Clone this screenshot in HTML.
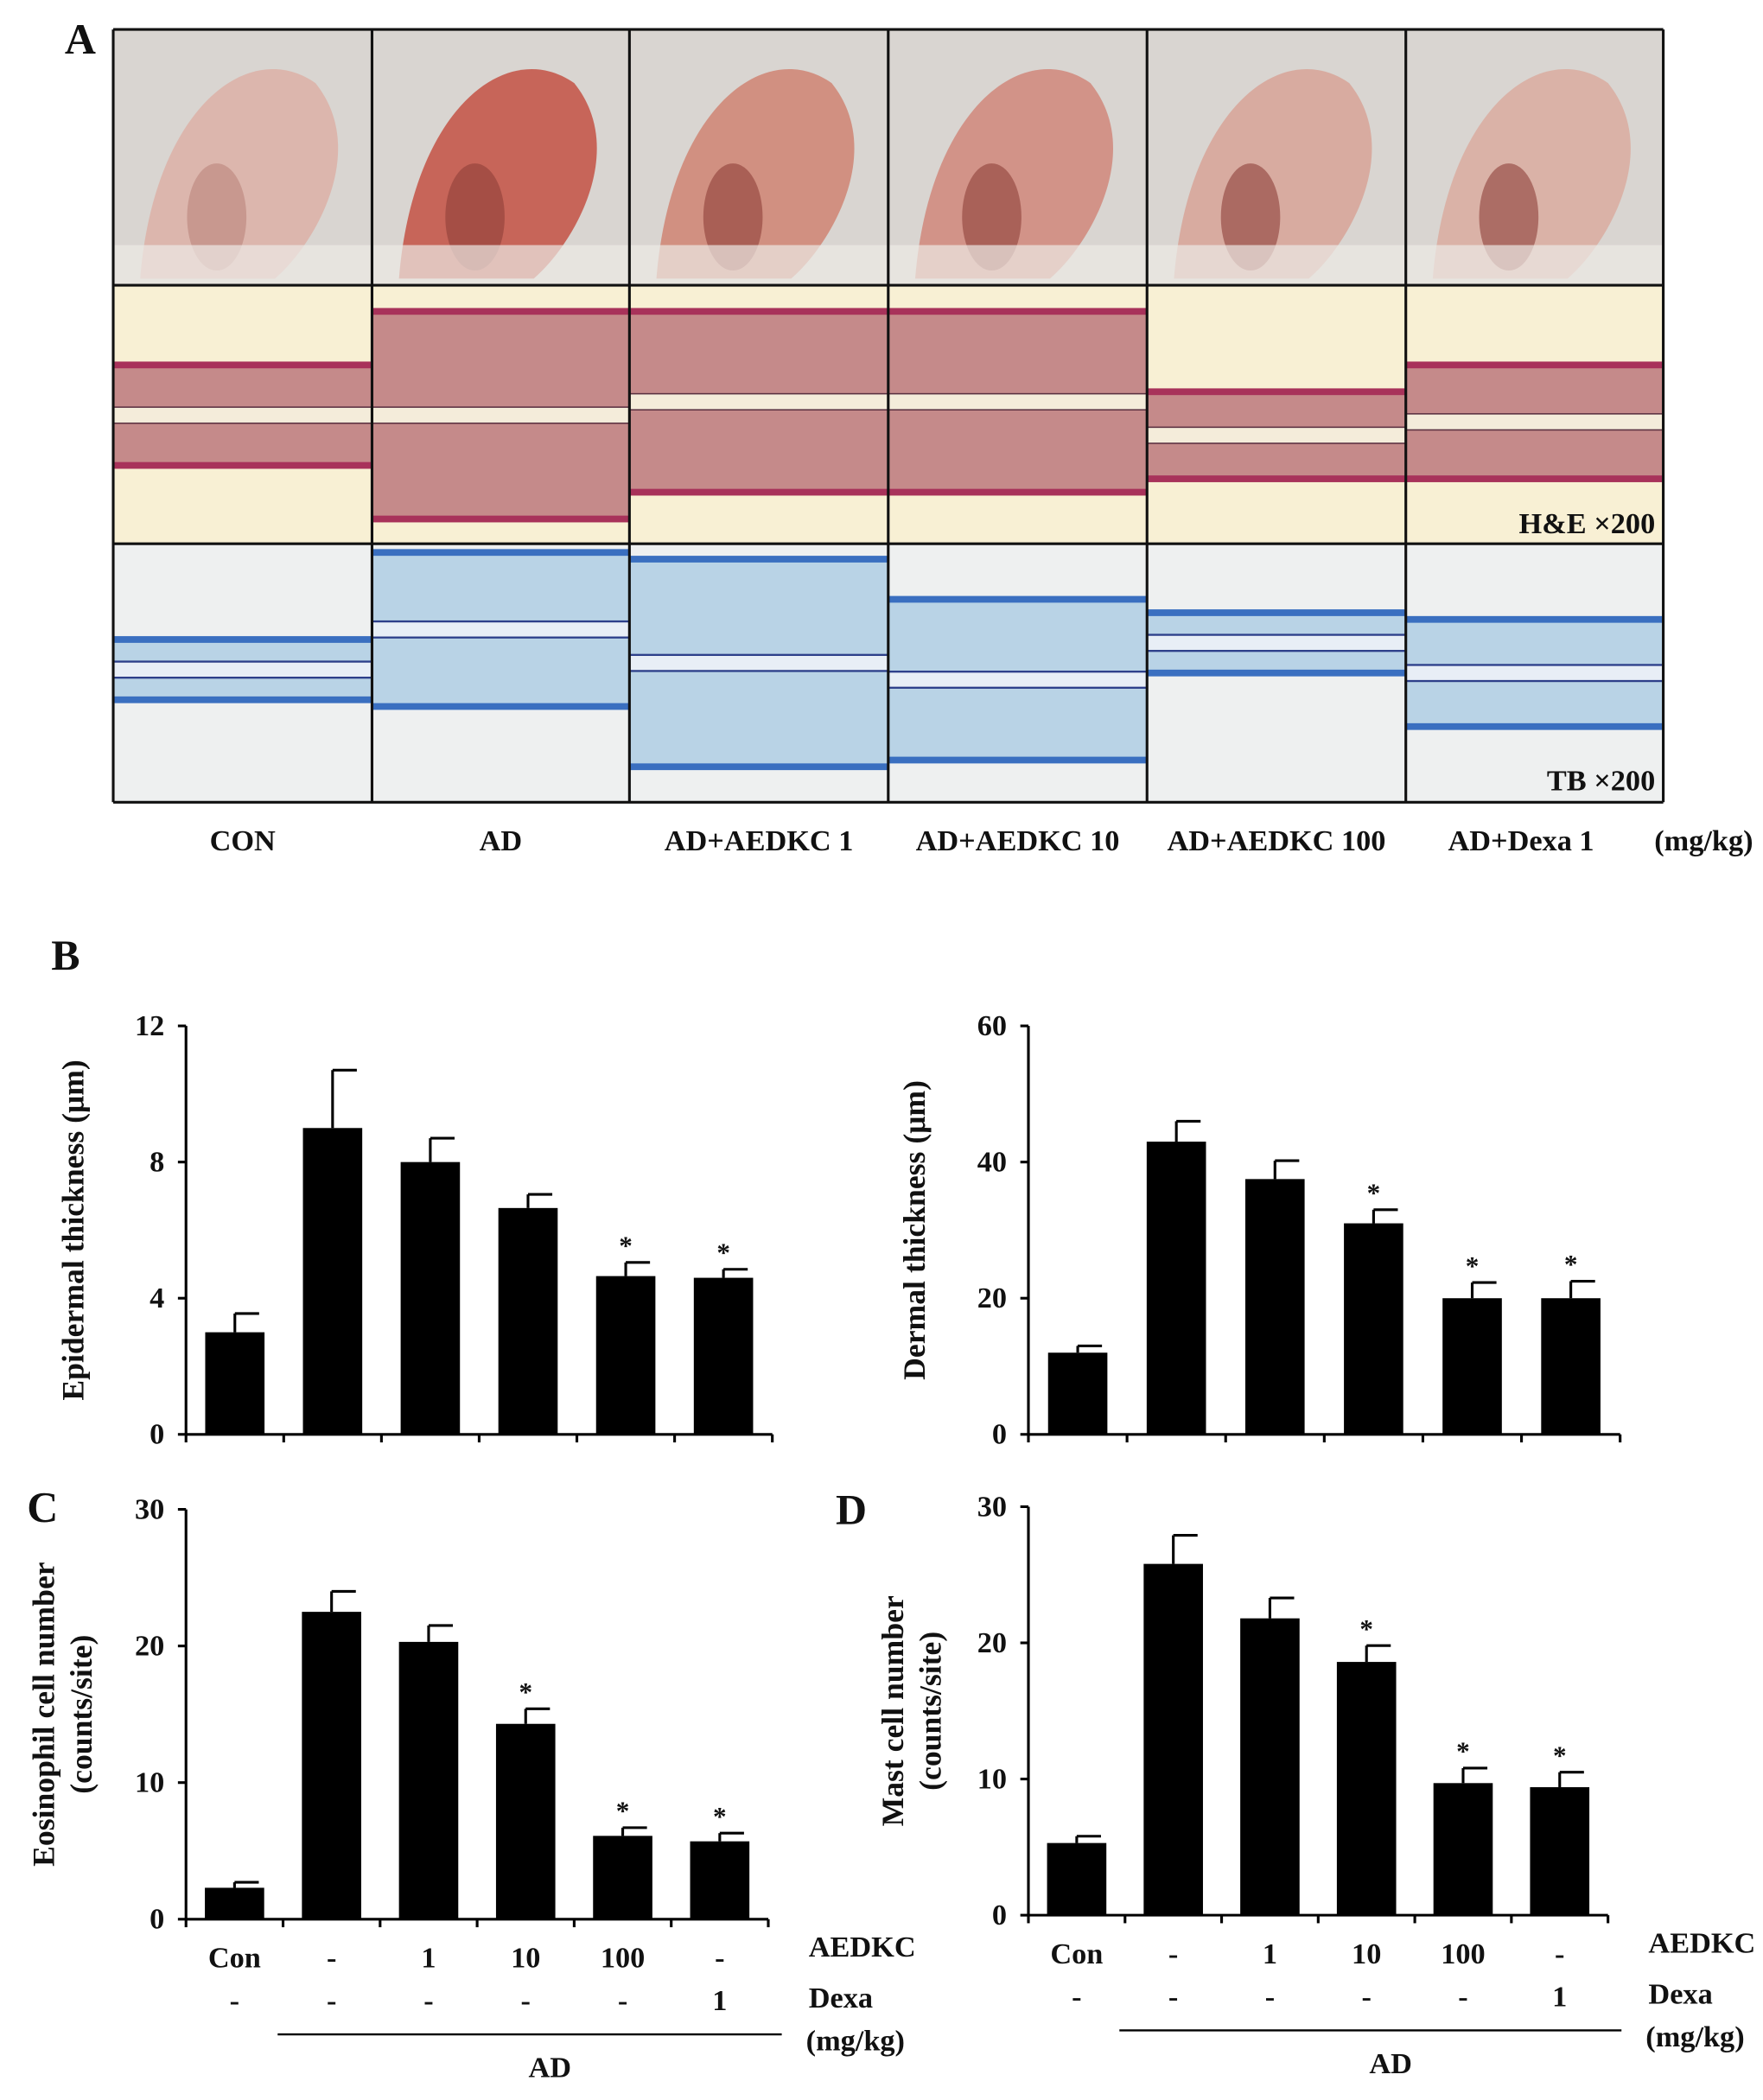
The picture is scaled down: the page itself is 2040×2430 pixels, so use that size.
<!DOCTYPE html>
<html><head><meta charset="utf-8">
<style>
html,body{margin:0;padding:0;background:#fff;}
svg{display:block;}
text{font-family:"Liberation Serif",serif;font-weight:bold;fill:#111;}
</style></head>
<body>
<svg id="fig" width="2040" height="2430" viewBox="0 0 1308 1568" preserveAspectRatio="none" xmlns="http://www.w3.org/2000/svg">
<g id="panelA"></g>
</svg>
<script>
const svg=document.getElementById('fig');
const NS='http://www.w3.org/2000/svg';
function el(tag,attrs,parent,txt){const e=document.createElementNS(NS,tag);for(const k in attrs)e.setAttribute(k,attrs[k]);if(txt!==undefined)e.textContent=txt;(parent||svg).appendChild(e);return e;}

// ---------- Panel A (images approximated) ----------
const colX=[84,276,467,659,851,1043,1234];
const rowY=[22,213,406,599];
const earRed=['#dcb3a8','#c4594b','#cf8878','#d08c80','#d7a69a','#d9aea2'];
const heThick=[[270,350],[230,390],[230,370],[230,370],[290,360],[270,360]];
const tbThick=[[475,525],[410,530],[415,575],[445,570],[455,505],[460,545]];
const labelsA=['CON','AD','AD+AEDKC 1','AD+AEDKC 10','AD+AEDKC 100','AD+Dexa 1'];
const pA=document.getElementById('panelA');
for(let i=0;i<6;i++){
  const x=colX[i],w=colX[i+1]-colX[i];
  let r=el('rect',{x:x,y:rowY[0],width:w,height:rowY[1]-rowY[0],fill:'#d9d5d1'},pA);
  
  el('path',{d:`M${x+20} ${rowY[1]-5} C${x+30} ${rowY[0]+60} ${x+100} ${rowY[0]+5} ${x+150} ${rowY[0]+40} C${x+190} ${rowY[0]+90} ${x+150} ${rowY[0]+160} ${x+120} ${rowY[1]-5} Z`,fill:earRed[i],opacity:0.9},pA);
  el('ellipse',{cx:x+w*0.4,cy:rowY[0]+140,rx:22,ry:40,fill:'#8d3f38',opacity:i===0?0.25:0.6},pA);
  el('rect',{x:x,y:rowY[1]-30,width:w,height:30,fill:'#ece9e5',opacity:0.7},pA);
  r=el('rect',{x:x,y:rowY[1],width:w,height:rowY[2]-rowY[1],fill:'#f8f0d4'},pA);
  
  const [a,b]=heThick[i];
  el('rect',{x:x,y:a,width:w,height:b-a,fill:'#c58a8a'},pA);
  el('rect',{x:x,y:a,width:w,height:5,fill:'#a8325a'},pA);
  el('rect',{x:x,y:b-5,width:w,height:5,fill:'#a8325a'},pA);
  el('rect',{x:x,y:(a+b)/2-6,width:w,height:12,fill:'#f4ecda',stroke:'#5a3040','stroke-width':1},pA);
  r=el('rect',{x:x,y:rowY[2],width:w,height:rowY[3]-rowY[2],fill:'#eef0f0'},pA);
  
  const [c,d]=tbThick[i];
  el('rect',{x:x,y:c,width:w,height:d-c,fill:'#b9d3e6'},pA);
  el('rect',{x:x,y:c,width:w,height:5,fill:'#3a6fc0'},pA);
  el('rect',{x:x,y:d-5,width:w,height:5,fill:'#3a6fc0'},pA);
  el('rect',{x:x,y:(c+d)/2-6,width:w,height:12,fill:'#e8eef6',stroke:'#2d3f8a','stroke-width':1.5},pA);
  const t=el('text',{x:x+w/2+(i===5?-10:0),y:635,'font-size':22,'text-anchor':'middle'},pA,labelsA[i]);
  
}
for(const x of colX) el('line',{x1:x,y1:22,x2:x,y2:599,stroke:'#111','stroke-width':2},pA);
for(const y of rowY) el('line',{x1:84,y1:y,x2:1234,y2:y,stroke:'#111','stroke-width':2},pA);
el('text',{x:1264,y:635,'font-size':22,'text-anchor':'middle'},pA,'(mg/kg)');
el('text',{x:1228,y:398,'font-size':22,'text-anchor':'end'},pA,'H&E ×200');
el('text',{x:1228,y:590,'font-size':22,'text-anchor':'end'},pA,'TB ×200');
el('text',{x:48,y:40,'font-size':32},pA,'A');
el('text',{x:38,y:724,'font-size':32},pA,'B');
el('text',{x:20,y:1136,'font-size':32},pA,'C');
el('text',{x:620,y:1138,'font-size':32},pA,'D');

// ---------- Chart data ----------
const categories=['CON','AD','AEDKC 1','AEDKC 10','AEDKC 100','Dexa 1'];
const epiValues=[3,9,8,6.65,4.65,4.6];
const epiErr=[0.55,1.7,0.7,0.4,0.4,0.25];
const epiSig=[false,false,false,false,true,true];
const epiTicks=[0,4,8,12];
const derValues=[12,43,37.5,31,20,20];
const derErr=[1,3,2.7,2,2.3,2.5];
const derSig=[false,false,false,true,true,true];
const derTicks=[0,20,40,60];
const eosValues=[2.3,22.5,20.3,14.3,6.1,5.7];
const eosErr=[0.4,1.5,1.2,1.1,0.6,0.6];
const eosSig=[false,false,false,true,true,true];
const eosTicks=[0,10,20,30];
const mastValues=[5.3,25.8,21.8,18.6,9.7,9.4];
const mastErr=[0.5,2.1,1.5,1.2,1.1,1.1];
const mastSig=[false,false,false,true,true,true];
const mastTicks=[0,10,20,30];
const aedkcLabels=['Con','-','1','10','100','-'];
const dexaLabels=['-','-','-','-','-','1'];

function chart(name,cfg,values,errs,sig,ticks,ytitle){
  const g=el('g',{});
  
  const max=ticks[ticks.length-1];
  const yS=v=>cfg.y0-(v/max)*(cfg.y0-cfg.y1);
  const xS=i=>cfg.x1+(i+0.5)*(cfg.x2-cfg.x1)/values.length;
  const bw=44;
  values.forEach((v,i)=>{
    const cx=xS(i),top=yS(v),et=yS(v+errs[i]);
    const ln=el('line',{x1:cx,y1:top,x2:cx,y2:et,stroke:'#000','stroke-width':2},g);
    
    el('line',{x1:cx,y1:et,x2:cx+bw/2-4,y2:et,stroke:'#000','stroke-width':2},g);
    const b=el('rect',{x:cx-bw/2,y:top,width:bw,height:cfg.y0-top,fill:'#000'},g);
    
    if(sig[i]){const s=el('text',{x:cx,y:et-6,'font-size':20,'text-anchor':'middle','font-weight':'normal'},g,'*');
      }
  });
  const ax=el('line',{x1:cfg.x1,y1:cfg.y1,x2:cfg.x1,y2:cfg.y0,stroke:'#000','stroke-width':2},g);
  
  const xa=el('line',{x1:cfg.x1,y1:cfg.y0,x2:cfg.x2,y2:cfg.y0,stroke:'#000','stroke-width':2},g);
  
  ticks.forEach(t=>{
    el('line',{x1:cfg.x1-6,y1:yS(t),x2:cfg.x1,y2:yS(t),stroke:'#000','stroke-width':2},g);
    const tl=el('text',{x:cfg.x1-16,y:yS(t)+7,'font-size':22,'text-anchor':'end'},g,t);
    
  });
  for(let i=0;i<=values.length;i++){
    const x=cfg.x1+i*(cfg.x2-cfg.x1)/values.length;
    el('line',{x1:x,y1:cfg.y0,x2:x,y2:cfg.y0+6,stroke:'#000','stroke-width':2},g);
  }
  const lines=ytitle.split('\n');
  lines.forEach((ln2,k)=>{
    const tx=cfg.tx+k*28;
    const t=el('text',{x:tx,y:(cfg.y0+cfg.y1)/2,'font-size':23,'text-anchor':'middle',transform:`rotate(-90 ${tx} ${(cfg.y0+cfg.y1)/2})`},g,ln2);
    
  });
  if(cfg.labels){
    values.forEach((v,i)=>{
      const cx=xS(i);
      el('text',{x:cx,y:cfg.y0+36,'font-size':22,'text-anchor':'middle'},g,aedkcLabels[i]);
      el('text',{x:cx,y:cfg.y0+68,'font-size':22,'text-anchor':'middle'},g,dexaLabels[i]);
    });
    el('text',{x:cfg.x2+30,y:cfg.y0+28,'font-size':22},g,'AEDKC');
    el('text',{x:cfg.x2+30,y:cfg.y0+66,'font-size':22},g,'Dexa');
    el('text',{x:cfg.x2+28,y:cfg.y0+98,'font-size':22},g,'(mg/kg)');
    el('line',{x1:xS(1)-40,y1:cfg.y0+86,x2:cfg.x2+10,y2:cfg.y0+86,stroke:'#000','stroke-width':1.5},g);
    el('text',{x:(xS(1)+cfg.x2)/2,y:cfg.y0+118,'font-size':22,'text-anchor':'middle'},g,'AD');
  }
}
chart('epidermal-thickness-chart',{x1:138,x2:573,y0:1071,y1:766,tx:62},epiValues,epiErr,epiSig,epiTicks,'Epidermal thickness (μm)');
chart('dermal-thickness-chart',{x1:763,x2:1202,y0:1071,y1:766,tx:686},derValues,derErr,derSig,derTicks,'Dermal thickness (μm)');
chart('eosinophil-chart',{x1:138,x2:570,y0:1433,y1:1127,tx:40,labels:true},eosValues,eosErr,eosSig,eosTicks,'Eosinophil cell number\n(counts/site)');
chart('mast-cell-chart',{x1:763,x2:1193,y0:1430,y1:1125,tx:670,labels:true},mastValues,mastErr,mastSig,mastTicks,'Mast cell number\n(counts/site)');
</script>
</body></html>
